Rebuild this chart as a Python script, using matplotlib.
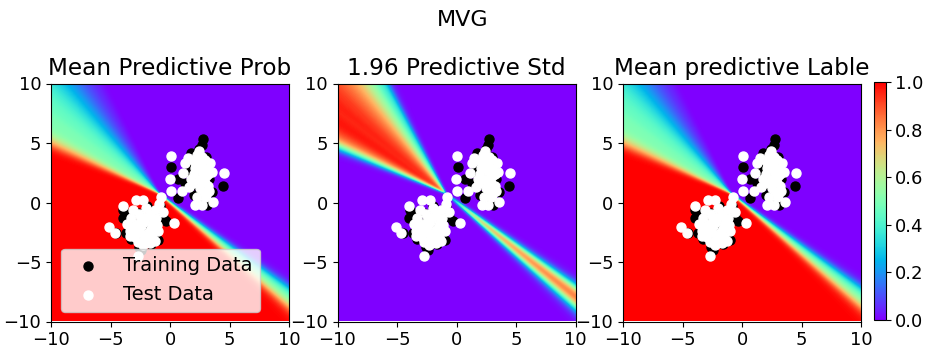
import numpy as np
import matplotlib
matplotlib.use('Agg')
import matplotlib.pyplot as plt

# --- decision boundary ---
# every posterior sample is a bent line through the kink point,
# one ray going to the upper left and one to the lower right (angles in degrees)
kink = (-0.9, 0.7)
right_ray_angles = [-41.5, -41.0, -40.5, -36.5, -36.0, -35.5]
left_ray_angles_tight = [150.0, 151.5, 152.5, 153.5, 154.5, 155.0, 155.5, 156.0, 157.0, 158.0]
left_ray_angles_spread = [118.0, 122.0, 125.0, 127.0, 129.0, 131.0, 133.0, 135.0, 138.0, 143.0]
soft_angle = 0.8   # degrees
soft_base = 0.05

# --- scatter points ---
train_x = [2.75, 2.67, 2.45, 1.75, 0.1, 0.68, 0.71, 4.42, 3.55, 3.1, 2.06, 1.6,
           2.3, 2.9, 2.2, 2.6, 1.5, 3.3, 2.8, 1.9, 3.0, 2.5, 1.3, 2.0,
           -3.99, -4.5, -3.66, -2.59, -1.0, -0.86, -0.3, -1.97, -3.93, -2.4, -1.5, -2.2,
           -3.0, -1.8, -2.7, -1.2, -3.3, -2.0, -1.1, -2.9, -0.6, -3.5, -2.3, -1.6]
train_y = [5.3, 4.85, 4.5, 4.15, 3.0, 1.95, 0.38, 1.38, 0.85, -0.18, 2.2, 3.2,
           3.6, 2.9, 1.5, 0.9, 2.6, 2.0, 0.2, 2.8, 3.8, 2.3, 1.6, 0.6,
           -1.3, -2.55, -2.55, -3.7, -3.12, -0.32, -1.58, -0.3, -0.65, -4.0, -1.2, -2.2,
           -1.7, -2.8, -0.9, -2.0, -3.1, -1.6, -0.8, -2.6, -1.2, -1.0, -3.3, -3.5]
test_x = [0.07, -0.04, 0.07, 0.99, 1.28, 1.13, 2.25, 2.96, 3.5, 4.5, 2.12, 2.67,
          3.6, 2.4, 2.7, 2.1, 3.0, 2.5, 1.8, 3.2, 2.8, 2.3, 3.4, 1.6, 2.9, 2.0, 3.1, 1.5,
          2.2, 2.6, 2.4, 2.9, 3.2, 2.0, 2.7, 3.3, 2.5, 1.9, 2.8, 2.3, 3.0,
          -5.1, -4.64, -3.99, -2.73, -2.87, -2.25, -0.77, 0.32, -3.38, -1.28, -0.9, -1.3,
          -3.3, -2.6, -2.0, -1.5, -2.4, -3.0, -1.8, -2.2, -2.7, -1.0, -3.6, -2.0, -1.2,
          -2.5, -1.7, -3.1, -0.6, -1.5,
          -2.2, -2.8, -1.6, -2.0, -2.6, -1.4, -3.2, -2.4, -1.9, -2.3, -1.1, -2.9, -1.7, -3.4]
test_y = [3.9, 1.98, 1.0, 0.94, 3.33, 2.5, 4.0, 3.6, 2.6, 2.5, -0.18, -0.18,
          0.02, 4.3, 3.2, 2.9, 2.2, 1.8, 2.0, 1.4, 1.0, 0.5, 3.3, 1.3, 0.5, 3.5, 2.8, 3.7,
          3.1, 2.7, 2.0, 1.6, 2.4, 2.4, 3.8, 1.0, 1.2, 1.6, 2.2, 3.4, 0.6,
          -2.05, -2.55, -0.32, -4.46, 0.24, 0.24, 0.47, -1.71, -2.84, -3.26, -0.1, -0.6,
          -1.3, -1.0, -1.2, -1.8, -2.0, -2.3, -2.5, -3.0, -3.3, -2.4, -1.8, -0.5, -1.3,
          -2.6, -3.4, -0.6, -0.8, -2.9,
          -1.6, -1.8, -2.2, -2.7, -2.2, -1.5, -2.0, -1.3, -3.1, -3.6, -1.9, -2.9, -1.0, -2.4]

# --- build the prediction maps from the boundary samples ---
grid = np.linspace(-10, 10, 240)
X, Y = np.meshgrid(grid, grid)
dx = X - kink[0]
dy = Y - kink[1]
dist = np.hypot(dx, dy)
scale = soft_base + dist * np.radians(soft_angle)

samples = []
for aL in left_ray_angles_tight + left_ray_angles_spread:
    for aR in right_ray_angles:
        tL, tR = np.radians(aL), np.radians(aR)
        hL = -dx * np.sin(tL) + dy * np.cos(tL)
        hR = dx * np.sin(tR) - dy * np.cos(tR)
        if aR + 360 - aL <= 180:
            g = np.minimum(hL, hR)
        else:
            g = np.maximum(hL, hR)
        samples.append(1 / (1 + np.exp(-g / scale)))
samples = np.array(samples)
mean_prob = samples.mean(axis=0)
std_prob = 1.96 * samples.std(axis=0)

# --- plotting ---
fig = plt.figure(figsize=(9.25, 3.49), dpi=100)
lefts = [51 / 925, 337.5 / 925, 623 / 925]
titles = ['Mean Predictive Prob', '1.96 Predictive Std', 'Mean predictive Lable']
maps = [mean_prob, std_prob, mean_prob]

for i in range(3):
    ax = fig.add_axes([lefts[i], 27.5 / 349, 238 / 925, 238 / 349])
    im = ax.imshow(maps[i], extent=[-10, 10, -10, 10], origin='lower',
                   cmap='rainbow', vmin=0, vmax=1)
    ax.scatter(train_x, train_y, c='black', s=42, label='Training Data')
    ax.scatter(test_x, test_y, c='white', s=42, label='Test Data')
    ax.set_xlim(-10, 10)
    ax.set_ylim(-10, 10)
    ax.set_xticks([-10, -5, 0, 5, 10])
    ax.set_yticks([-10, -5, 0, 5, 10])
    ax.tick_params(labelsize=13)
    ax.set_title(titles[i], fontsize=16.7)
    if i == 0:
        ax.legend(loc='lower left', fontsize=14)

cax = fig.add_axes([873.5 / 925, 29 / 349, 12 / 925, 238 / 349])
cb = fig.colorbar(im, cax=cax)
cb.set_ticks([0.0, 0.2, 0.4, 0.6, 0.8, 1.0])
cb.ax.tick_params(labelsize=13)

fig.suptitle('MVG', fontsize=16, y=0.97)
fig.savefig('out.png', dpi=100)
